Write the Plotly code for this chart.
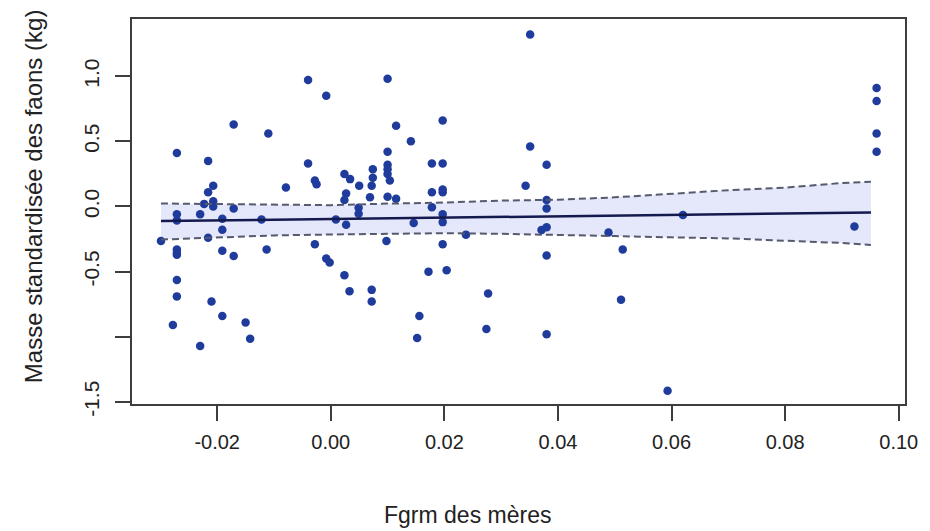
import plotly.graph_objects as go

# Observed points: Fgrm des mères (x) vs Masse standardisée des faons (y)
fgrm = [
    -0.0299, -0.0271, -0.0271, -0.0271, -0.0271, -0.0271, -0.0271, -0.0271, -0.0271, -0.0278,
    -0.0230, -0.0230, -0.0223, -0.0216, -0.0216, -0.0216, -0.0207, -0.0207, -0.0207, -0.0210,
    -0.0191, -0.0191, -0.0191, -0.0191, -0.0171, -0.0171, -0.0171, -0.0150, -0.0142, -0.0122,
    -0.0113, -0.0110, -0.0079, -0.0040, -0.0040, -0.0028, -0.0025, -0.0028, -0.0008, -0.0008,
    -0.0002,
    0.0009, 0.0024, 0.0034, 0.0027, 0.0024, 0.0027, 0.0024, 0.0033, 0.0050, 0.0049,
    0.0049, 0.0069, 0.0074, 0.0074, 0.0072, 0.0072, 0.0072, 0.0100, 0.0100, 0.0100,
    0.0100, 0.0100, 0.0104, 0.0100, 0.0115, 0.0098, 0.0115, 0.0141, 0.0146, 0.0156,
    0.0152, 0.0172, 0.0178, 0.0178, 0.0178, 0.0197, 0.0197, 0.0197, 0.0197, 0.0197,
    0.0197, 0.0197, 0.0204, 0.0238, 0.0277, 0.0274,
    0.0343, 0.0351, 0.0351, 0.0380, 0.0380, 0.0380, 0.0371, 0.0380, 0.0380, 0.0380,
    0.0489, 0.0514, 0.0511, 0.0593, 0.0620, 0.0922, 0.0961, 0.0961, 0.0961, 0.0961,
]
masse = [
    -0.265, 0.41, -0.06, -0.107, -0.33, -0.357, -0.37, -0.565, -0.69, -0.91,
    -0.06, -1.07, 0.02, 0.35, 0.11, -0.24, 0.16, 0.04, 0.0, -0.73,
    -0.094, -0.178, -0.34, -0.84, 0.63, -0.015, -0.38, -0.89, -1.015, -0.10,
    -0.33, 0.56, 0.145, 0.97, 0.33, 0.20, 0.17, -0.29, 0.85, -0.40,
    -0.43,
    -0.10, 0.25, 0.21, 0.10, 0.05, -0.14, -0.527, -0.65, 0.16, -0.01,
    -0.056, 0.07, 0.285, 0.22, 0.16, -0.64, -0.73, 0.98, 0.42, 0.32,
    0.285, 0.25, 0.20, 0.074, 0.06, -0.265, 0.62, 0.50, -0.127, -0.84,
    -1.01, -0.50, 0.33, 0.11, -0.005, 0.66, 0.33, 0.13, 0.11, -0.06,
    -0.12, -0.29, -0.49, -0.216, -0.667, -0.94,
    0.16, 1.32, 0.46, 0.32, 0.05, -0.015, -0.18, -0.16, -0.376, -0.98,
    -0.20, -0.33, -0.715, -1.415, -0.066, -0.153, 0.91, 0.81, 0.56, 0.42,
]

# Fitted line and confidence band
fit_x = [-0.0299, 0.0951]
fit_y = [-0.112, -0.046]
band_x = [-0.0299, -0.02, -0.01, 0.0, 0.01, 0.02, 0.03, 0.04, 0.05, 0.06, 0.07, 0.08, 0.09, 0.0951]
band_upper = [0.023, 0.020, 0.012, 0.010, 0.022, 0.030, 0.045, 0.052, 0.070, 0.100, 0.125, 0.145, 0.180, 0.190]
band_lower = [-0.254, -0.237, -0.222, -0.215, -0.208, -0.205, -0.210, -0.216, -0.227, -0.237, -0.245, -0.263, -0.280, -0.295]

x_ticks = [-0.02, 0.0, 0.02, 0.04, 0.06, 0.08, 0.10]
x_ticktext = ["-0.02", "0.00", "0.02", "0.04", "0.06", "0.08", "0.10"]
y_ticks = [-1.5, -1.0, -0.5, 0.0, 0.5, 1.0]
y_ticktext = ["-1.5", "", "-0.5", "0.0", "0.5", "1.0"]

AX = "#3d3d3d"
FONT = "Liberation Sans, Arial, sans-serif"

fig = go.Figure()
fig.add_trace(go.Scatter(
    x=band_x + band_x[::-1], y=band_upper + band_lower[::-1],
    fill="toself", fillcolor="#e5e7fb", line=dict(width=0),
    mode="lines", hoverinfo="skip", showlegend=False))
fig.add_trace(go.Scatter(
    x=fgrm, y=masse, mode="markers",
    marker=dict(size=8.5, color="#1f3c9c", line=dict(width=0)),
    showlegend=False))
for yy in (band_upper, band_lower):
    fig.add_trace(go.Scatter(
        x=band_x, y=yy, mode="lines",
        line=dict(color="#555a6e", width=2, dash="7px,4px"),
        showlegend=False))
fig.add_trace(go.Scatter(
    x=fit_x, y=fit_y, mode="lines",
    line=dict(color="#141a4d", width=2.5), showlegend=False))

fig.update_layout(
    width=930, height=531,
    margin=dict(l=132, r=17, t=19, b=127),
    paper_bgcolor="white", plot_bgcolor="white",
    font=dict(family=FONT, color="#222222"),
    xaxis=dict(
        range=[-0.0350, 0.1011], showgrid=False, zeroline=False,
        showline=True, mirror=True, linecolor=AX, linewidth=2,
        ticks="outside", ticklen=15, tickwidth=2, tickcolor=AX,
        tickvals=x_ticks, ticktext=x_ticktext,
        tickfont=dict(size=20, family=FONT, color="#222222"),
        ticklabelstandoff=4),
    yaxis=dict(
        range=[-1.516, 1.439], showgrid=False, zeroline=False,
        showline=True, mirror=True, linecolor=AX, linewidth=2,
        ticks="outside", ticklen=15, tickwidth=2, tickcolor=AX,
        tickvals=y_ticks, ticktext=y_ticktext, tickangle=-90,
        tickfont=dict(size=21, family=FONT, color="#222222"),
        ticklabelstandoff=8),
    annotations=[
        dict(text="Fgrm des mères", xref="paper", yref="paper",
             x=0.434, y=-0.288, xanchor="center", yanchor="middle",
             showarrow=False, font=dict(size=23, family=FONT, color="#222222")),
        dict(text="Masse standardisée des faons (kg)", xref="paper", yref="paper",
             x=-0.128, y=0.540, xanchor="center", yanchor="middle", textangle=-90,
             showarrow=False, font=dict(size=24, family=FONT, color="#222222")),
    ],
)

fig.write_html("out.html", config={"displayModeBar": False},
               post_script="document.body.style.margin='0';")
